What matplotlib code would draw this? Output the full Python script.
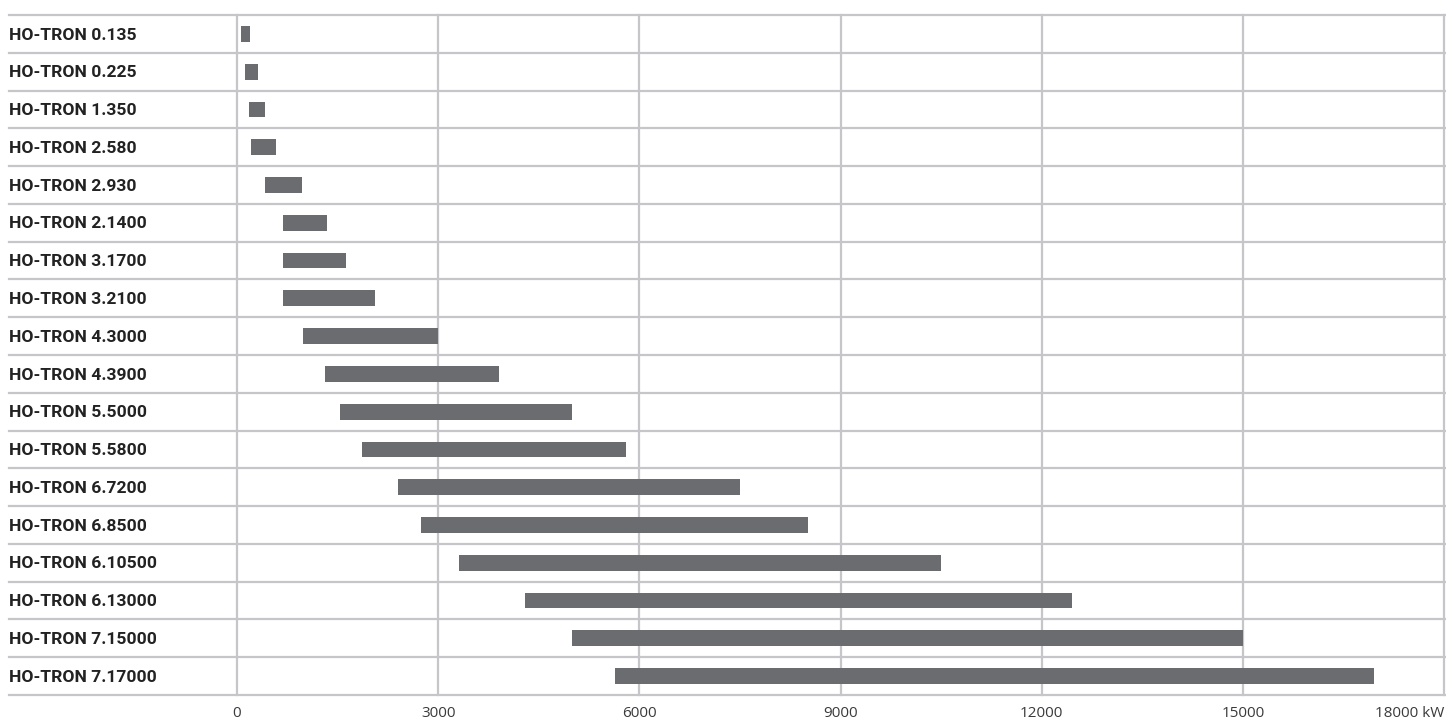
import matplotlib.pyplot as plt

# model names and output range (kW)
models = ['HO-TRON 0.135', 'HO-TRON 0.225', 'HO-TRON 1.350', 'HO-TRON 2.580',
          'HO-TRON 2.930', 'HO-TRON 2.1400', 'HO-TRON 3.1700', 'HO-TRON 3.2100',
          'HO-TRON 4.3000', 'HO-TRON 4.3900', 'HO-TRON 5.5000', 'HO-TRON 5.5800',
          'HO-TRON 6.7200', 'HO-TRON 6.8500', 'HO-TRON 6.10500', 'HO-TRON 6.13000',
          'HO-TRON 7.15000', 'HO-TRON 7.17000']
min_kw = [60, 120, 180, 210, 420, 690, 690, 690, 990, 1310,
          1540, 1870, 2400, 2740, 3310, 4300, 5000, 5630]
max_kw = [190, 310, 420, 580, 970, 1340, 1630, 2060, 3000, 3910,
          5000, 5800, 7500, 8520, 10500, 12450, 15000, 16960]
ticks = [0, 3000, 6000, 9000, 12000, 15000, 18000]
tick_labels = ['0', '3000', '6000', '9000', '12000', '15000', '18000 kW']

grid_col = '#c6c6ca'
bar_col = '#6b6c70'

fig = plt.figure(figsize=(14.46, 7.24), dpi=100)
ax = fig.add_axes([237 / 1446, 29 / 724, 1207 / 1446, 680 / 724])

n = len(models)
y = list(range(n))
widths = [b - a for a, b in zip(min_kw, max_kw)]
ax.barh(y, widths, left=min_kw, height=0.42, color=bar_col, zorder=3)

ax.set_xlim(0, 18000)
ax.set_ylim(n - 0.5, -0.5)

# vertical grid
for t in ticks:
    ax.axvline(t, color=grid_col, lw=1.6, zorder=1, clip_on=False)

# row separators, running under the labels too
tr = ax.get_yaxis_transform()
for k in range(n + 1):
    ax.plot([-0.189, 1.002], [k - 0.5, k - 0.5], transform=tr, color=grid_col,
            lw=1.6, clip_on=False, zorder=1)

# row labels
for k, name in enumerate(models):
    ax.text(-0.189, k + 0.03, name, transform=tr, ha='left', va='center',
            fontsize=12.6, fontweight='bold', color='#222222',
            family=['Roboto', 'DejaVu Sans'])

ax.set_yticks([])
ax.set_xticks(ticks)
ax.set_xticklabels(tick_labels, fontsize=11, color='#3a3a3a', family='Open Sans')
ax.get_xticklabels()[-1].set_ha('right')
ax.tick_params(axis='x', length=0, pad=8)
for s in ax.spines.values():
    s.set_visible(False)

fig.savefig('out.png', dpi=100)
